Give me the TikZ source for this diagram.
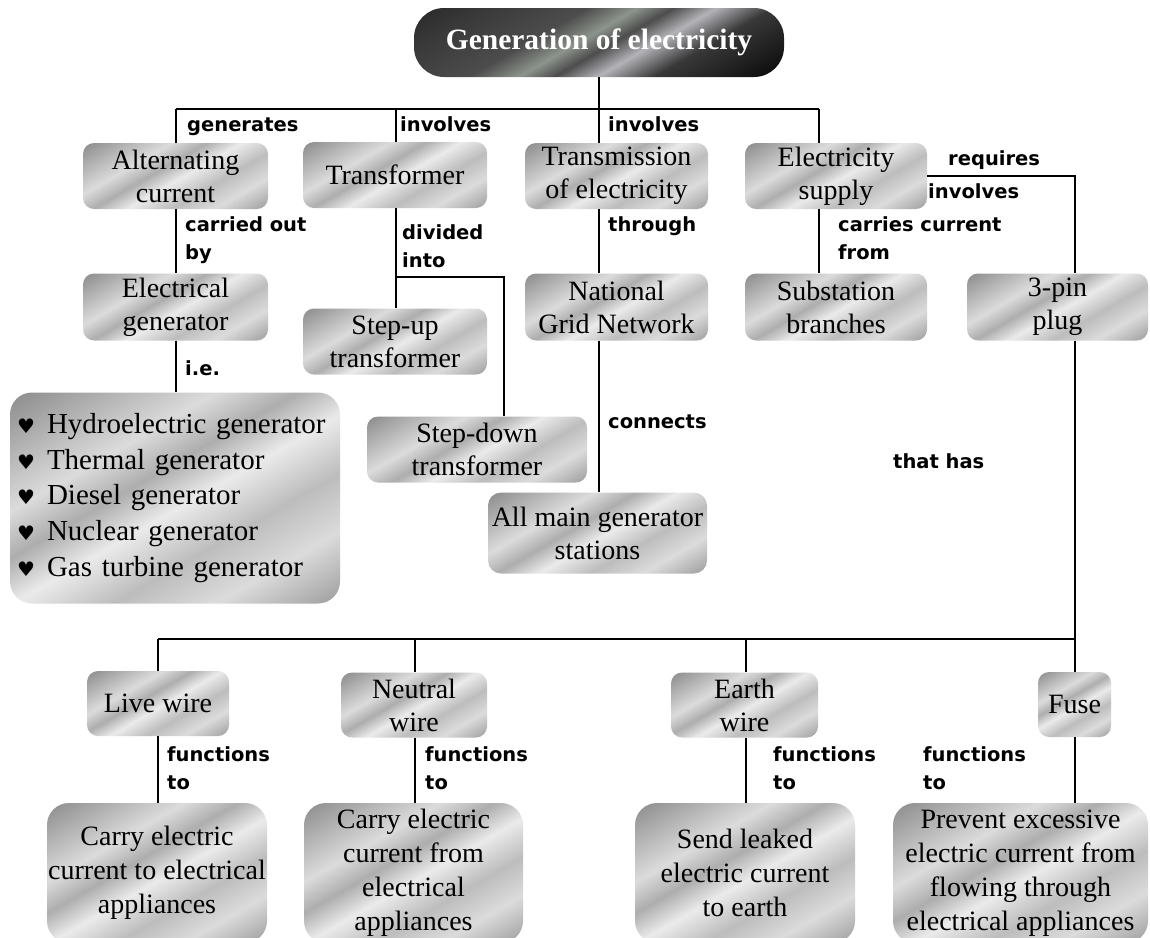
\documentclass[tikz,border=0pt]{standalone}
\usepackage{fontspec}
\setmainfont{Liberation Serif}
\newfontfamily\lblfont{DejaVu Sans}
\newfontfamily\symfont{DejaVu Sans}
\definecolor{ga}{gray}{0.36}
\definecolor{gb}{gray}{0.58}
\definecolor{gc}{gray}{0.86}
\definecolor{gd}{gray}{0.68}
\definecolor{ge}{gray}{0.92}
\definecolor{gf}{gray}{0.74}
\definecolor{gg}{gray}{0.44}
\pgfdeclarehorizontalshading{metal}{100bp}{color(0bp)=(ga); color(18bp)=(gb); color(36bp)=(gc); color(44bp)=(gd); color(52bp)=(ge); color(62bp)=(gf); color(72bp)=(gc); color(86bp)=(gb); color(100bp)=(gg)}
\definecolor{da}{gray}{0.05}
\definecolor{db}{gray}{0.22}
\definecolor{dc}{rgb}{0.55,0.58,0.55}
\definecolor{dd}{gray}{0.30}
\definecolor{de}{rgb}{0.70,0.70,0.72}
\pgfdeclarehorizontalshading{darkmetal}{100bp}{color(0bp)=(da); color(25bp)=(db); color(40bp)=(dd); color(47bp)=(dc); color(52bp)=(dd); color(58bp)=(de); color(66bp)=(db); color(82bp)=(da); color(100bp)=(da)}
\begin{document}
\begin{tikzpicture}[x=1pt,y=-1pt,
  box/.style={shade, shading=metal, shading angle=-60, rounded corners=11pt,
    inner sep=0pt, align=center, font=\fontsize{28}{33}\selectfont},
  bigbox/.style={box, rounded corners=22pt, font=\fontsize{28}{34}\selectfont},
  titlebox/.style={shade, shading=darkmetal, shading angle=-60, rounded corners=30pt,
    inner sep=0pt, text=white, font=\bfseries\fontsize{29.5}{30}\selectfont},
  lbl/.style={inner sep=0pt, align=left, font=\lblfont\bfseries\fontsize{19.5}{28}\selectfont},
  lbl1/.style={lbl, anchor=base west},
  lbl2/.style={lbl, anchor=north west},
  link/.style={line width=1.4pt, black}]
\fill[white] (0,0) rectangle (1150,937);
\useasboundingbox (0,0) rectangle (1150,937);

% nodes
\node[titlebox, minimum width=370pt, minimum height=69pt] (title) at (599,42.5) {Generation of electricity};

\node[box, minimum width=185pt, minimum height=66pt] (ac) at (175.5,176) {Alternating\\current};
\node[box, minimum width=184pt, minimum height=66pt] (tr) at (395,175) {Transformer};
\node[box, minimum width=183pt, minimum height=66pt] (tx) at (616.5,176) {Transmission\\of electricity};
\node[box, minimum width=182pt, minimum height=66pt] (es) at (836,176) {Electricity\\supply};

\node[box, minimum width=185pt, minimum height=67pt] (eg) at (175.5,307) {Electrical\\generator};
\node[box, minimum width=184pt, minimum height=66pt] (su) at (395,341.5) {Step-up\\transformer};
\node[box, minimum width=220pt, minimum height=66pt] (sd) at (477,449.5) {Step-down\\transformer};
\node[box, minimum width=183pt, minimum height=67pt] (ng) at (616.5,307) {National\\Grid Network};
\node[box, minimum width=182pt, minimum height=67pt] (sb) at (836,307) {Substation\\branches};
\node[box, minimum width=181pt, minimum height=67pt] (pin) at (1057.5,307) {3-pin\\plug};

\node[bigbox, minimum width=330pt, minimum height=211pt, text width=316pt, align=left,
  font=\fontsize{29}{35.7}\selectfont] (gens) at (175,498)
  {\makebox[30pt][l]{\symfont\fontsize{20}{20}\selectfont\char"2665}Hydroelectric generator\\
   \makebox[30pt][l]{\symfont\fontsize{20}{20}\selectfont\char"2665}Thermal generator\\
   \makebox[30pt][l]{\symfont\fontsize{20}{20}\selectfont\char"2665}Diesel generator\\
   \makebox[30pt][l]{\symfont\fontsize{20}{20}\selectfont\char"2665}Nuclear generator\\
   \makebox[30pt][l]{\symfont\fontsize{20}{20}\selectfont\char"2665}Gas turbine generator};
\node[box, minimum width=219pt, minimum height=81pt, rounded corners=13pt] (amg) at (597.5,533) {All main generator\\stations};

\node[box, minimum width=142pt, minimum height=65pt] (live) at (158,703.5) {Live wire};
\node[box, minimum width=146pt, minimum height=65pt] (neutral) at (414,705) {Neutral\\wire};
\node[box, minimum width=147pt, minimum height=65pt] (earth) at (744.5,705) {Earth\\wire};
\node[box, minimum width=73pt, minimum height=65pt] (fuse) at (1074.5,704.5) {Fuse};

\node[bigbox, minimum width=220pt, minimum height=140pt] (f1) at (157,873) {Carry electric\\current to electrical\\appliances};
\node[bigbox, minimum width=219pt, minimum height=140pt] (f2) at (413.5,873) {Carry electric\\current from\\electrical\\appliances};
\node[bigbox, minimum width=220pt, minimum height=140pt] (f3) at (745,873) {Send leaked\\electric current\\to earth};
\node[bigbox, minimum width=255pt, minimum height=140pt] (f4) at (1020.5,873) {Prevent excessive\\electric current from\\flowing through\\electrical appliances};

% labels
\node[lbl1] (l1) at (187,131) {generates};
\node[lbl1] (l2) at (400,131) {involves};
\node[lbl1] (l3) at (608,131) {involves};
\node[lbl2] (l4) at (185,216) {carried out\\by};
\node[lbl2] (l5) at (402,224) {divided\\into};
\node[lbl1] (l6) at (608,231) {through};
\node[lbl2] (l7) at (838,216) {carries current\\from};
\node[lbl1] (l8) at (948,165) {requires};
\node[lbl1] (l9) at (928,198) {involves};
\node[lbl1] (l10) at (185,375) {i.e.};
\node[lbl1] (l11) at (608,428) {connects};
\node[lbl1] (l12) at (893,468) {that has};
\node[lbl2] (l13) at (167,746) {functions\\to};
\node[lbl2] (l14) at (425,746) {functions\\to};
\node[lbl2] (l15) at (773,746) {functions\\to};
\node[lbl2] (l16) at (923,746) {functions\\to};

% connectors
\coordinate (b0) at (599,109);
\coordinate (bL) at (176,109);
\coordinate (bT) at (396,109);
\coordinate (bR) at (819,109);
\draw[link] (title.south) -- (b0);
\draw[link] (bL) -- (bR);
\draw[link] (bL) -- (bL |- ac.north);
\draw[link] (bT) -- (bT |- tr.north);
\draw[link] (b0) -- (b0 |- tx.north);
\draw[link] (bR) -- (bR |- es.north);

\draw[link] (bL |- ac.south) -- (bL |- eg.north);
\draw[link] (bL |- eg.south) -- (bL |- gens.north);

\coordinate (tj) at (396,277);
\coordinate (tk) at (504,277);
\draw[link] (tj |- tr.south) -- (tj |- su.north);
\draw[link] (tj) -- (tk) -- (tk |- sd.north);

\draw[link] (b0 |- tx.south) -- (b0 |- ng.north);
\draw[link] (b0 |- ng.south) -- (b0 |- amg.north);

\draw[link] (bR |- es.south) -- (bR |- sb.north);

\coordinate (pj) at (1075,176);
\draw[link] (es.east |- pj) -- (pj) -- (pj |- pin.north);

\coordinate (pb) at (1075,639);
\coordinate (lb) at (158,639);
\coordinate (nb) at (415,639);
\coordinate (eb) at (746,639);
\draw[link] (pj |- pin.south) -- (pb);
\draw[link] (lb) -- (pb);
\draw[link] (lb) -- (lb |- live.north);
\draw[link] (lb |- live.south) -- (lb |- f1.north);
\draw[link] (nb) -- (nb |- neutral.north);
\draw[link] (nb |- neutral.south) -- (nb |- f2.north);
\draw[link] (eb) -- (eb |- earth.north);
\draw[link] (eb |- earth.south) -- (eb |- f3.north);
\draw[link] (pb) -- (pb |- fuse.north);
\draw[link] (pb |- fuse.south) -- (pb |- f4.north);
\end{tikzpicture}
\end{document}
